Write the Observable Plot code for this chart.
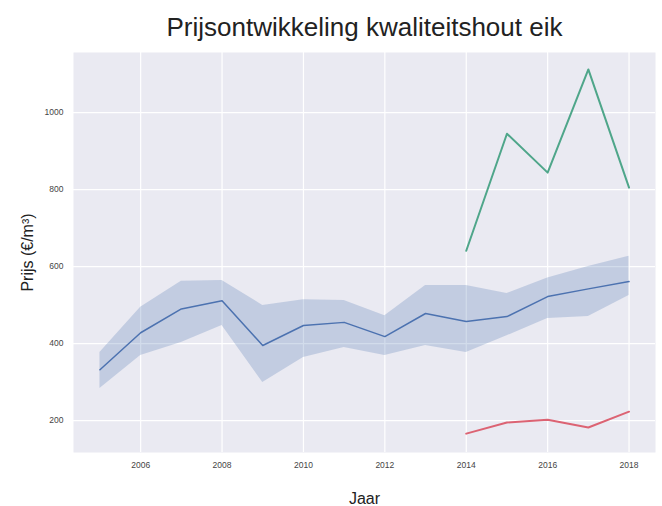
<!DOCTYPE html>
<html>
<head>
<meta charset="utf-8">
<script src="https://cdn.jsdelivr.net/npm/d3@7"></script>
<script src="https://cdn.jsdelivr.net/npm/@observablehq/plot@0.6"></script>
<style>
  html, body { margin: 0; padding: 0; background: #fff; }
  #chart svg { display: block; }
</style>
</head>
<body>
<div id="chart"></div>
<script>
const years = [2005, 2006, 2007, 2008, 2009, 2010, 2011, 2012, 2013, 2014, 2015, 2016, 2017, 2018];
const meanPrice = [332, 428, 490, 511, 395, 447, 455, 418, 478, 457, 470, 522, 542, 561];
const bandUpper = [377, 494, 562, 564, 499, 514, 512, 472, 551, 551, 530, 570, 600, 627];
const bandLower = [283, 369, 403, 447, 299, 364, 390, 369, 395, 377, 420, 465, 470, 525];
const years2 = [2014, 2015, 2016, 2017, 2018];
const highPrice = [641, 945, 844, 1112, 805];
const lowPrice = [166, 195, 202, 182, 223];
const xTicks = [2006, 2008, 2010, 2012, 2014, 2016, 2018];
const yTicks = [200, 400, 600, 800, 1000];
const titleText = "Prijsontwikkeling kwaliteitshout eik";
const xLabel = "Jaar";
const yLabel = "Prijs (€/m³)";

const main = years.map((y, i) => ({year: y, mean: meanPrice[i], lo: bandLower[i], hi: bandUpper[i]}));
const high = years2.map((y, i) => ({year: y, v: highPrice[i]}));
const low = years2.map((y, i) => ({year: y, v: lowPrice[i]}));

const chart = Plot.plot({
  width: 662,
  height: 506,
  marginTop: 52,
  marginBottom: 54,
  marginLeft: 73,
  marginRight: 7,
  style: {fontFamily: "Liberation Sans, Arial, sans-serif", background: "#fff"},
  x: {domain: [2004.35, 2018.65], ticks: xTicks, tickFormat: d => String(d), tickSize: 0, tickPadding: 9, label: null},
  y: {domain: [117, 1156], ticks: yTicks, tickFormat: d => String(d), tickSize: 0, tickPadding: 10, label: null},
  marks: [
    Plot.frame({fill: "#eaeaf2", stroke: null}),
    Plot.gridX(xTicks, {stroke: "#fff", strokeOpacity: 1, strokeWidth: 1.2}),
    Plot.gridY(yTicks, {stroke: "#fff", strokeOpacity: 1, strokeWidth: 1.2}),
    Plot.areaY(main, {x: "year", y1: "lo", y2: "hi", fill: "#4c72b0", fillOpacity: 0.25}),
    Plot.lineY(main, {x: "year", y: "mean", stroke: "#4c72b0", strokeWidth: 1.5}),
    Plot.lineY(high, {x: "year", y: "v", stroke: "#4fa68a", strokeWidth: 2}),
    Plot.lineY(low, {x: "year", y: "v", stroke: "#dc6373", strokeWidth: 2}),
    Plot.axisX({ticks: xTicks, tickSize: 0, tickPadding: 9, fontSize: 8.5, fill: "#444", label: null, tickFormat: d => String(d)}),
    Plot.axisY({ticks: yTicks, tickSize: 0, tickPadding: 10, fontSize: 8.5, fill: "#444", label: null, tickFormat: d => String(d)}),
    Plot.text([titleText], {frameAnchor: "top", dy: -25, fontSize: 26, fill: "#222", textAnchor: "middle", lineAnchor: "middle"}),
    Plot.text([xLabel], {frameAnchor: "bottom", dy: 46, fontSize: 16, fill: "#222", textAnchor: "middle", lineAnchor: "middle"}),
    Plot.text([yLabel], {frameAnchor: "left", dx: -46, rotate: -90, fontSize: 16, fill: "#222", textAnchor: "middle", lineAnchor: "middle"})
  ]
});
document.getElementById("chart").appendChild(chart);
</script>
</body>
</html>
